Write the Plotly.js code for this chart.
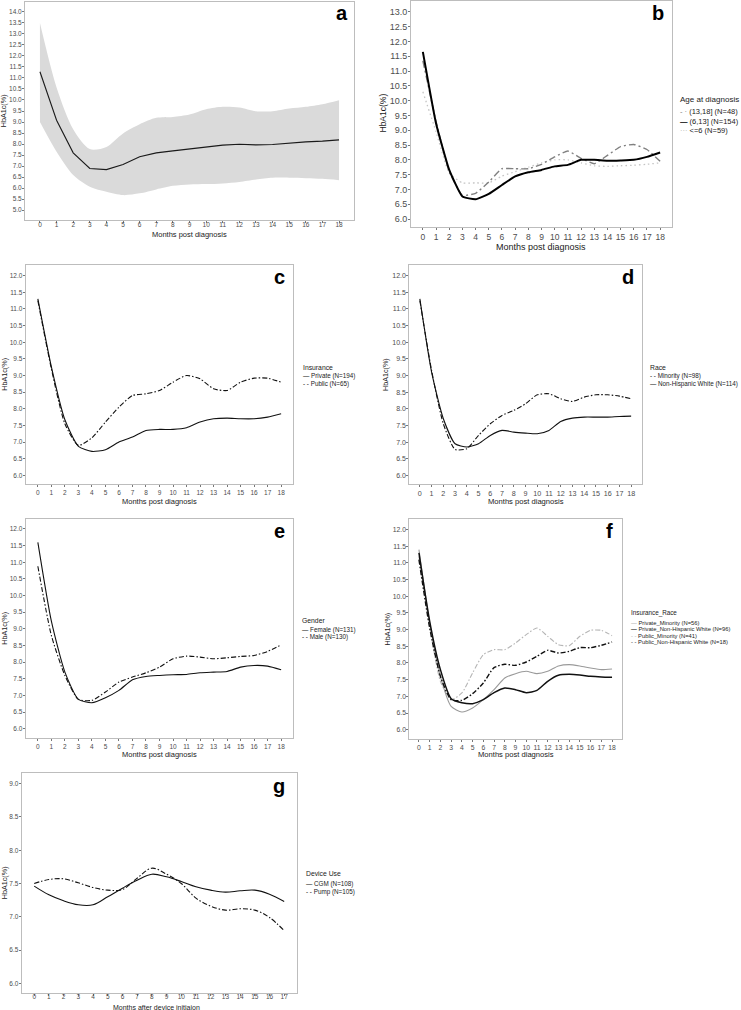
<!DOCTYPE html>
<html><head><meta charset="utf-8">
<script src="https://cdn.plot.ly/plotly-3.0.1.min.js"></script>
<style>html,body{margin:0;padding:0;background:#fff}#chart{width:741px;height:1010px}</style>
</head><body><div id="chart"></div>
<script>
// ---------------- data ----------------
const months = [0,1,2,3,4,5,6,7,8,9,10,11,12,13,14,15,16,17,18];
const monthsDevice = [0,1,2,3,4,5,6,7,8,9,10,11,12,13,14,15,16,17];

// panel a: overall mean and band
const aMean  = [11.28,9.08,7.60,6.89,6.84,7.07,7.42,7.60,7.69,7.78,7.89,7.95,7.99,7.96,7.98,8.05,8.10,8.13,8.19];
const aUpper = [13.50,10.57,8.67,7.77,7.87,8.48,8.90,9.19,9.23,9.34,9.58,9.69,9.66,9.49,9.49,9.61,9.69,9.81,9.99];
const aLower = [9.00,7.65,6.59,6.06,5.83,5.68,5.76,5.94,6.10,6.16,6.18,6.21,6.28,6.39,6.47,6.47,6.45,6.42,6.36];

// panel b: age at diagnosis
const bAge13to18 = [11.35,9.30,7.60,6.80,6.87,7.25,7.70,7.70,7.70,7.85,8.10,8.30,8.05,7.87,8.15,8.45,8.52,8.35,7.95];
const bAge6to13  = [11.65,9.23,7.66,6.76,6.67,6.85,7.15,7.44,7.58,7.66,7.78,7.83,8.00,8.00,7.97,7.98,8.00,8.10,8.25];
const bAgeLe6    = [10.30,8.95,7.55,7.22,7.22,7.22,7.45,7.60,7.75,7.90,8.00,8.00,7.90,7.80,7.78,7.80,7.82,7.85,7.90];

// panel c: insurance
const cPrivate = [11.30,9.26,7.67,6.87,6.72,6.77,7.00,7.15,7.35,7.38,7.38,7.43,7.60,7.70,7.72,7.70,7.70,7.75,7.85];
const cPublic  = [11.25,9.20,7.55,6.90,7.13,7.60,8.05,8.40,8.45,8.55,8.80,9.00,8.90,8.60,8.55,8.80,8.92,8.92,8.80];

// panel d: race
const dMinority = [11.25,9.15,7.55,6.78,6.80,7.20,7.55,7.80,7.95,8.15,8.42,8.45,8.30,8.22,8.35,8.42,8.42,8.38,8.30];
const dNHWhite  = [11.30,9.10,7.70,6.95,6.85,6.95,7.20,7.35,7.30,7.27,7.25,7.35,7.62,7.72,7.75,7.75,7.75,7.77,7.78];

// panel e: gender
const eFemale = [11.60,9.23,7.70,6.88,6.78,6.93,7.15,7.47,7.57,7.60,7.62,7.63,7.68,7.70,7.72,7.85,7.90,7.88,7.77];
const eMale   = [10.88,8.80,7.60,6.88,6.85,7.10,7.40,7.55,7.68,7.85,8.10,8.18,8.15,8.10,8.13,8.17,8.20,8.32,8.52];

// panel f: insurance x race
const fPrivMinority = [11.40,9.20,7.60,6.70,6.53,6.65,6.90,7.20,7.55,7.68,7.75,7.68,7.75,7.91,7.95,7.91,7.85,7.80,7.82];
const fPrivNHWhite  = [11.30,9.25,7.80,6.93,6.81,6.78,6.90,7.11,7.25,7.20,7.11,7.18,7.45,7.63,7.66,7.64,7.60,7.58,7.57];
const fPubMinority  = [11.20,9.10,7.45,6.90,7.10,7.70,8.25,8.40,8.40,8.60,8.85,9.05,8.80,8.55,8.52,8.80,8.98,8.98,8.82];
const fPubNHWhite   = [11.10,9.05,7.60,6.90,6.88,7.08,7.40,7.86,7.96,7.93,8.03,8.20,8.38,8.30,8.35,8.46,8.46,8.53,8.63];

// panel g: device use
const gCGM  = [7.46,7.33,7.24,7.18,7.18,7.30,7.43,7.55,7.64,7.60,7.53,7.45,7.40,7.37,7.39,7.40,7.34,7.23];
const gPump = [7.50,7.56,7.57,7.51,7.44,7.40,7.41,7.58,7.73,7.64,7.50,7.28,7.16,7.10,7.12,7.10,6.99,6.79];

// ---------------- layout helpers ----------------
const W = 741, H = 1010;
const fx = p => p / W;
const fy = p => 1 - p / H;
const FONT = 'Liberation Sans, Arial, Helvetica, sans-serif';
const BOX = '#bdbdbd';

function xAx(l, r, anchor, range, fs, standoff, tl) {
  return {
    domain: [fx(l), fx(r)], anchor: anchor, range: range,
    tickmode: 'linear', tick0: 0, dtick: 1,
    showgrid: false, zeroline: false,
    showline: true, linecolor: BOX, linewidth: 1, mirror: true,
    ticks: 'outside', ticklen: tl || 2, tickcolor: '#555', tickwidth: 0.8,
    ticklabelstandoff: standoff,
    tickfont: {family: FONT, size: fs, color: '#4d4d4d'}
  };
}
function yAx(t, b, anchor, range, lo, fs) {
  return {
    domain: [fy(b), fy(t)], anchor: anchor, range: range,
    tickmode: 'linear', tick0: lo, dtick: 0.5, tickformat: '.1f',
    showgrid: false, zeroline: false,
    showline: true, linecolor: BOX, linewidth: 1, mirror: true,
    ticks: 'outside', ticklen: 2, tickcolor: '#555', tickwidth: 0.8,
    ticklabelstandoff: -1,
    tickfont: {family: FONT, size: fs, color: '#4d4d4d'}
  };
}

const DD = '5px,2px,1.5px,2px';   // dot-dash pattern
function ln(x, y, xa, ya, name, color, width, dash, shape, smooth) {
  return {x: x, y: y, xaxis: xa, yaxis: ya, name: name, type: 'scatter', mode: 'lines',
    showlegend: false, hoverinfo: 'skip',
    line: {color: color, width: width, dash: dash || 'solid', shape: shape || 'linear', smoothing: smooth || 0}};
}

const traces = [
  // a
  {x: months, y: aLower, xaxis: 'x', yaxis: 'y', type: 'scatter', mode: 'lines', name: 'lower',
   line: {width: 0, shape: 'spline', smoothing: 0.8}, showlegend: false, hoverinfo: 'skip'},
  {x: months, y: aUpper, xaxis: 'x', yaxis: 'y', type: 'scatter', mode: 'lines', name: 'upper',
   fill: 'tonexty', fillcolor: '#dadada', line: {width: 0, shape: 'spline', smoothing: 0.8},
   showlegend: false, hoverinfo: 'skip'},
  ln(months, aMean, 'x', 'y', 'Mean', '#1a1a1a', 1.1),
  // b
  ln(months, bAgeLe6, 'x2', 'y2', '<=6 (N=59)', '#c4c4c4', 1.3, '1.5px,3px', 'spline', 0.4),
  ln(months, bAge13to18, 'x2', 'y2', '(13,18] (N=48)', '#808080', 1.4, '7px,3px,2px,3px', 'spline', 0.4),
  ln(months, bAge6to13, 'x2', 'y2', '(6,13] (N=154)', '#000000', 2, 'solid', 'spline', 0.4),
  // c
  ln(months, cPublic, 'x3', 'y3', 'Public (N=65)', '#111', 1.1, DD, 'spline', 0.6),
  ln(months, cPrivate, 'x3', 'y3', 'Private (N=194)', '#111', 1.1, 'solid', 'spline', 0.6),
  // d
  ln(months, dMinority, 'x4', 'y4', 'Minority (N=98)', '#111', 1.1, DD, 'spline', 0.6),
  ln(months, dNHWhite, 'x4', 'y4', 'Non-Hispanic White (N=114)', '#111', 1.1, 'solid', 'spline', 0.6),
  // e
  ln(months, eMale, 'x5', 'y5', 'Male (N=130)', '#111', 1.1, DD, 'spline', 0.6),
  ln(months, eFemale, 'x5', 'y5', 'Female (N=131)', '#111', 1.1, 'solid', 'spline', 0.6),
  // f
  ln(months, fPubMinority, 'x6', 'y6', 'Public_Minority (N=41)', '#b5b5b5', 1.1, DD, 'spline', 0.6),
  ln(months, fPrivMinority, 'x6', 'y6', 'Private_Minority (N=56)', '#9a9a9a', 1.1, 'solid', 'spline', 0.6),
  ln(months, fPubNHWhite, 'x6', 'y6', 'Public_Non-Hispanic White (N=18)', '#111', 1.4, DD, 'spline', 0.6),
  ln(months, fPrivNHWhite, 'x6', 'y6', 'Private_Non-Hispanic White (N=96)', '#111', 1.5, 'solid', 'spline', 0.6),
  // g
  ln(monthsDevice, gPump, 'x7', 'y7', 'Pump (N=105)', '#111', 1.1, DD, 'spline', 1),
  ln(monthsDevice, gCGM, 'x7', 'y7', 'CGM (N=108)', '#111', 1.1, 'solid', 'spline', 1)
];

// annotations: panel letters, axis titles, legends
const annotations = [];
function letter(t, x, y) {
  annotations.push({text: '<b>' + t + '</b>', xref: 'paper', yref: 'paper', x: fx(x), y: fy(y),
    xanchor: 'center', yanchor: 'middle', showarrow: false, font: {family: FONT, size: 20, color: '#000'}});
}
function xTitle(text, x, y, fs) {
  annotations.push({text: text, xref: 'paper', yref: 'paper', x: fx(x), y: fy(y),
    xanchor: 'center', yanchor: 'middle', showarrow: false, font: {family: FONT, size: fs, color: '#1a1a1a'}});
}
function yTitle(x, y, fs) {
  annotations.push({text: 'HbA1c(%)', xref: 'paper', yref: 'paper', x: fx(x), y: fy(y), textangle: -90,
    xanchor: 'center', yanchor: 'middle', showarrow: false, font: {family: FONT, size: fs, color: '#1a1a1a'}});
}
function legendBlock(x, yTitleY, title, fs, items) {
  annotations.push({text: title, xref: 'paper', yref: 'paper', x: fx(x), y: fy(yTitleY),
    xanchor: 'left', yanchor: 'middle', showarrow: false, font: {family: FONT, size: fs + 0.5, color: '#222'}});
  items.forEach(it => {
    annotations.push({text: '<span style="color:' + it.c + '">' + it.s + '</span> ' + it.t,
      xref: 'paper', yref: 'paper', x: fx(x), y: fy(it.y),
      xanchor: 'left', yanchor: 'middle', showarrow: false, font: {family: FONT, size: fs, color: '#222'}});
  });
}
letter('a', 341.7, 13); letter('b', 658, 13); letter('c', 279, 277); letter('d', 628, 277);
letter('e', 279, 531); letter('f', 609, 531); letter('g', 279, 786);

const XT = 'Months post diagnosis';
xTitle(XT, 190, 234.8, 7.5);
xTitle(XT, 541, 247, 9);
xTitle(XT, 159.5, 501, 7.5);
xTitle(XT, 525.5, 501.3, 7.6);
xTitle(XT, 159.5, 754, 7.5);
xTitle(XT, 515.5, 754.5, 7.6);
xTitle('Months after device initiaion', 156, 1007, 7.0);

yTitle(4.2, 111, 7.2);
yTitle(382.5, 113, 8.5);
yTitle(4.2, 374.5, 7.2);
yTitle(385.5, 374.5, 7.2);
yTitle(4.2, 628.5, 7.2);
yTitle(386.5, 629, 7.2);
yTitle(4.2, 883, 7.2);

legendBlock(678, 100, 'Age at diagnosis', 7.5, [
  {s: '- ·', c: '#808080', t: '(13,18] (N=48)', y: 112},
  {s: '<b>—</b>', c: '#000', t: '(6,13] (N=154)', y: 121},
  {s: '···', c: '#b0b0b0', t: '&lt;=6 (N=59)', y: 130}]);
legendBlock(301, 367, 'Insurance', 6.3, [
  {s: '—', c: '#111', t: 'Private (N=194)', y: 376},
  {s: '- -', c: '#111', t: 'Public (N=65)', y: 384}]);
legendBlock(648, 367, 'Race', 6.3, [
  {s: '- -', c: '#111', t: 'Minority (N=98)', y: 376},
  {s: '—', c: '#111', t: 'Non-Hispanic White (N=114)', y: 384}]);
legendBlock(300, 620, 'Gender', 6.3, [
  {s: '—', c: '#111', t: 'Female (N=131)', y: 629.5},
  {s: '- -', c: '#111', t: 'Male (N=130)', y: 637}]);
legendBlock(628.7, 612.5, 'Insurance_Race', 5.8, [
  {s: '—', c: '#9a9a9a', t: 'Private_Minority (N=56)', y: 622.8},
  {s: '<b>—</b>', c: '#111', t: 'Private_Non-Hispanic White (N=96)', y: 629.3},
  {s: '- -', c: '#aaa', t: 'Public_Minority (N=41)', y: 635.8},
  {s: '- -', c: '#111', t: 'Public_Non-Hispanic White (N=18)', y: 642.3}]);
legendBlock(304, 873.5, 'Device Use', 6.3, [
  {s: '—', c: '#111', t: 'CGM (N=108)', y: 884.3},
  {s: '- -', c: '#111', t: 'Pump (N=105)', y: 891.7}]);

const layout = {
  width: W, height: H, margin: {l: 0, r: 0, t: 0, b: 0},
  paper_bgcolor: '#fff', plot_bgcolor: '#fff', showlegend: false,
  font: {family: FONT},
  xaxis:  xAx(25, 354, 'y', [-0.9, 18.9], 6.5, -4, 1.8),
  yaxis:  yAx(2, 220, 'x', [4.55, 14.45], 5, 6.5),
  xaxis2: xAx(411, 672, 'y2', [-0.9, 18.9], 8.5, -1.5),
  yaxis2: yAx(1, 227, 'x2', [5.73, 13.37], 6, 9),
  xaxis3: xAx(25.7, 293.3, 'y3', [-0.9, 18.9], 6.5, -1.5),
  yaxis3: yAx(265, 484, 'x3', [5.74, 12.32], 6, 6.5),
  xaxis4: xAx(409.3, 641.7, 'y4', [-0.9, 18.9], 7.2, -1.5),
  yaxis4: yAx(265, 484, 'x4', [5.74, 12.32], 6, 7.0),
  xaxis5: xAx(25.7, 293.3, 'y5', [-0.9, 18.9], 6.5, -2.5),
  yaxis5: yAx(519, 738, 'x5', [5.72, 12.3], 6, 6.5),
  xaxis6: xAx(409.3, 621.7, 'y6', [-0.9, 18.9], 6.8, -3.5, 1.8),
  yaxis6: yAx(519.3, 739, 'x6', [5.72, 12.31], 6, 6.8),
  xaxis7: xAx(21.7, 296.7, 'y7', [-0.85, 17.85], 6.5, -5, 1.5),
  yaxis7: yAx(772.7, 993.3, 'x7', [5.85, 9.165], 6, 6.5),
  annotations: annotations
};

Plotly.newPlot('chart', traces, layout, {displayModeBar: false, staticPlot: true});
</script></body></html>
